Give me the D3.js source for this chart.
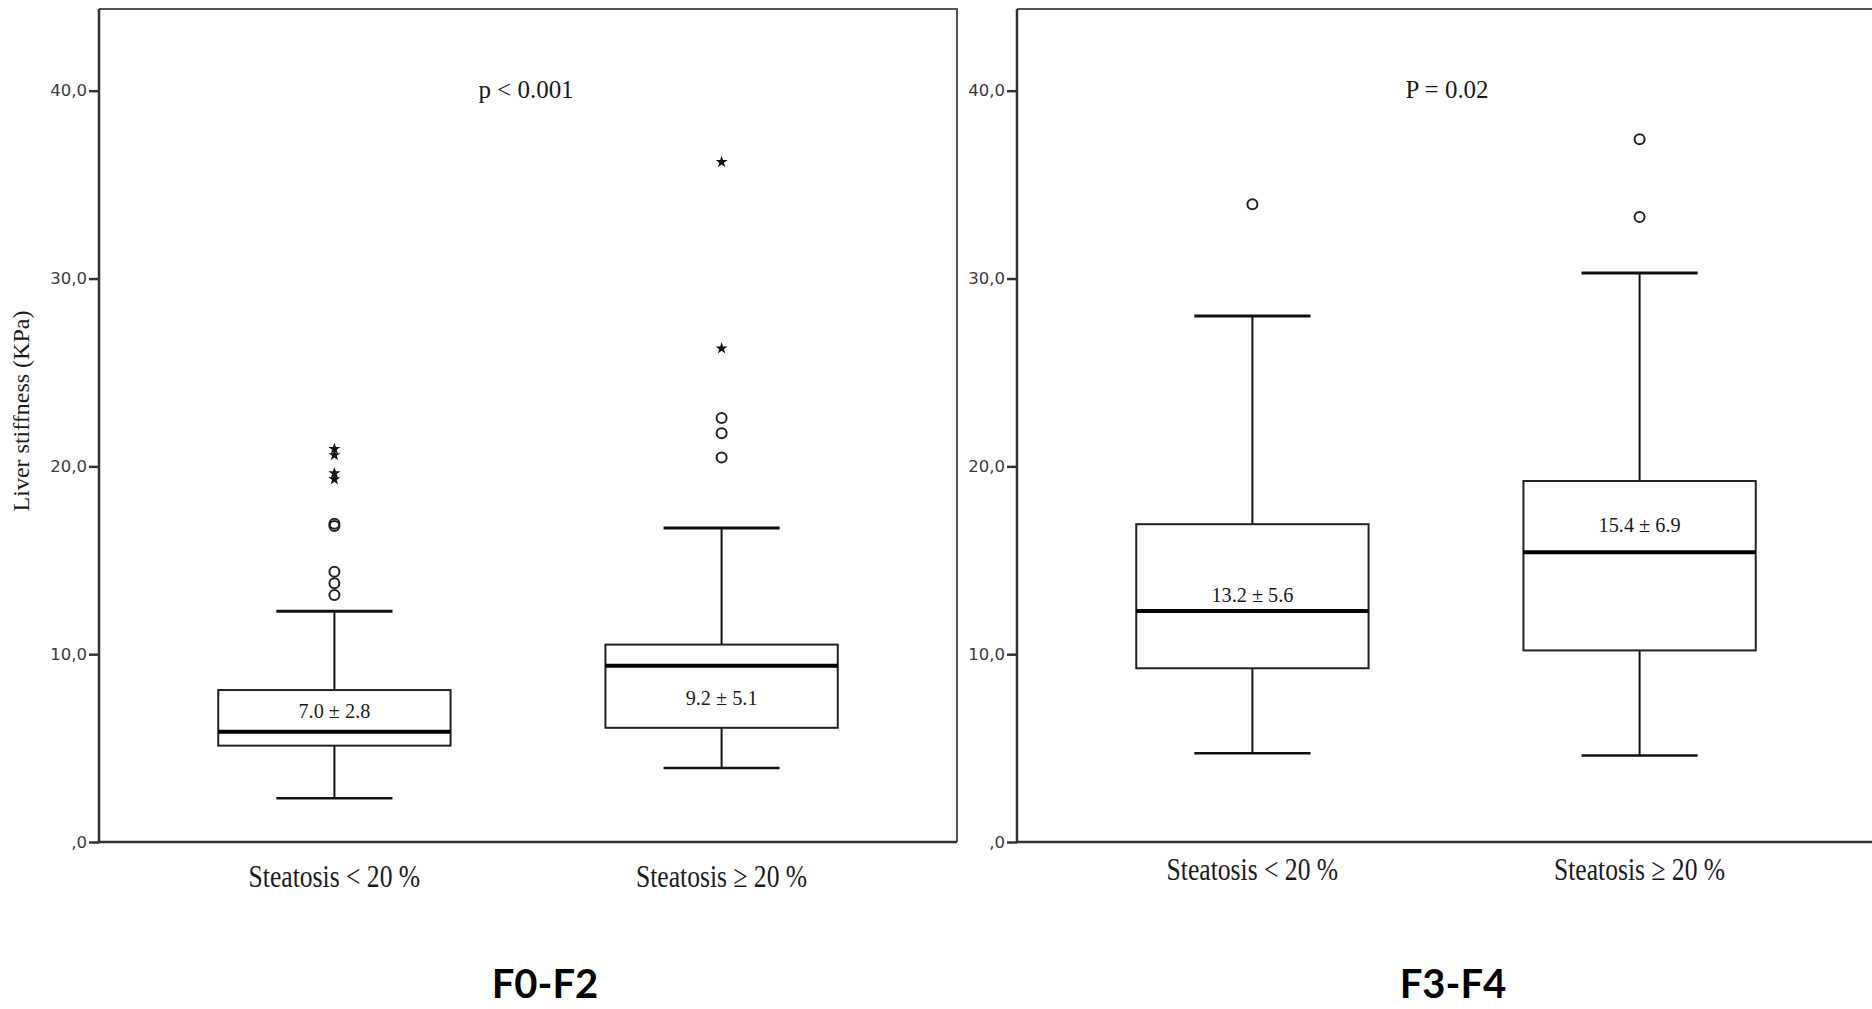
<!DOCTYPE html>
<html>
<head>
<meta charset="utf-8">
<script src="https://cdn.jsdelivr.net/npm/d3@7"></script>
<style>
  body { margin: 0; background: #fff; }
  .tick text { font-family: "DejaVu Sans", sans-serif; font-size: 16.5px; fill: #3a3a3a; }
  .serif { font-family: "Liberation Serif", "Times New Roman", serif; fill: #1a1a1a; }
</style>
</head>
<body>
<svg id="chart"></svg>
<script>
// Panels and categories
var panels = ["F0-F2", "F3-F4"];
var categories = ["Steatosis < 20 %", "Steatosis \u2265 20 %"];
var pLabels = ["p < 0.001", "P = 0.02"];
var yTicks = [0, 10, 20, 30, 40];

// Box statistics, one entry per box: F0-F2 (<20, >=20), F3-F4 (<20, >=20)
var whiskerLow  = [2.33, 3.94, 4.72, 4.61];
var q1          = [5.13, 6.08, 9.25, 10.20];
var median      = [5.87, 9.38, 12.30, 15.43];
var q3          = [8.09, 10.51, 16.92, 19.22];
var whiskerHigh = [12.28, 16.72, 28.01, 30.29];
var means       = [7.0, 9.2, 13.2, 15.4];
var sds         = [2.8, 5.1, 5.6, 6.9];

// Outliers (circles) and extremes (stars)
var outliers = [
    [13.15, 13.77, 14.39, 16.83, 16.95],
    [20.47, 21.76, 22.58],
    [33.96],
    [33.28, 37.41]
];
var extremes = [
    [19.31, 19.63, 20.6, 20.93],
    [26.28, 36.2],
    [],
    []
];

// Layout
var width = 1872, height = 1009;
var panelLeft = [99, 1017], panelWidth = 858;
var plotTop = 9, plotBottom = 842;

var svg = d3.select("#chart")
    .attr("width", width)
    .attr("height", height);

var y = d3.scaleLinear()
    .domain([0, 44.35])
    .range([plotBottom, plotTop]);

var x = d3.scalePoint()
    .domain(categories)
    .range([0, panelWidth])
    .padding(0.608);

var boxW = x.step() * 0.6;

// squeeze text horizontally to mimic the condensed serif of the original
function squeeze(sel, k) {
    sel.each(function () {
        var len = this.getComputedTextLength();
        d3.select(this)
            .attr("textLength", len * k)
            .attr("lengthAdjust", "spacingAndGlyphs");
    });
}

panels.forEach(function (name, p) {
    var g = svg.append("g")
        .attr("transform", "translate(" + panelLeft[p] + ",0)");

    // frame: top and right
    g.append("path")
        .attr("d", "M0," + plotTop + "H" + panelWidth + "V" + plotBottom)
        .attr("fill", "none")
        .attr("stroke", "#555")
        .attr("stroke-width", 2);

    // y axis
    var yAxis = g.append("g")
        .call(d3.axisLeft(y)
            .tickValues(yTicks)
            .tickSize(10)
            .tickPadding(2)
            .tickFormat(function (d) { return d === 0 ? ",0" : d + ",0"; }));
    yAxis.select(".domain").remove();
    yAxis.selectAll(".tick line").attr("stroke", "#333").attr("stroke-width", 2.5);

    // left + bottom axis lines
    g.append("path")
        .attr("d", "M0," + plotTop + "V" + plotBottom + "H" + panelWidth)
        .attr("fill", "none")
        .attr("stroke", "#333")
        .attr("stroke-width", 2.5);

    categories.forEach(function (cat, c) {
        var i = p * 2 + c;
        var cx = x(cat);

        // whisker stems
        g.append("line")
            .attr("x1", cx).attr("x2", cx)
            .attr("y1", y(whiskerHigh[i])).attr("y2", y(q3[i]))
            .attr("stroke", "#111").attr("stroke-width", 2);
        g.append("line")
            .attr("x1", cx).attr("x2", cx)
            .attr("y1", y(q1[i])).attr("y2", y(whiskerLow[i]))
            .attr("stroke", "#111").attr("stroke-width", 2);

        // caps
        [whiskerHigh[i], whiskerLow[i]].forEach(function (v, k) {
            g.append("line")
                .attr("x1", cx - boxW / 4).attr("x2", cx + boxW / 4)
                .attr("y1", y(v)).attr("y2", y(v))
                .attr("stroke", "#111").attr("stroke-width", k === 0 ? 3 : 2.5);
        });

        // box
        g.append("rect")
            .attr("x", cx - boxW / 2)
            .attr("y", y(q3[i]))
            .attr("width", boxW)
            .attr("height", y(q1[i]) - y(q3[i]))
            .attr("fill", "#fff")
            .attr("stroke", "#222")
            .attr("stroke-width", 2);

        // median
        g.append("line")
            .attr("x1", cx - boxW / 2).attr("x2", cx + boxW / 2)
            .attr("y1", y(median[i])).attr("y2", y(median[i]))
            .attr("stroke", "#000").attr("stroke-width", 4);

        // mean ± sd label, nudged off the median line when they collide
        var ly = y(means[i]);
        if (Math.abs(means[i] - median[i]) < 0.5) {
            ly += (i === 1 ? 28 : -28);
        }
        g.append("text")
            .attr("class", "serif")
            .attr("x", cx)
            .attr("y", ly)
            .attr("dy", "0.35em")
            .attr("text-anchor", "middle")
            .style("font-size", "22px")
            .text(means[i].toFixed(1) + " \u00b1 " + sds[i].toFixed(1))
            .call(squeeze, 0.92);

        // outliers
        g.selectAll(".out" + i)
            .data(outliers[i])
            .enter().append("circle")
            .attr("cx", cx)
            .attr("cy", function (d) { return y(d); })
            .attr("r", 5)
            .attr("fill", "none")
            .attr("stroke", "#222")
            .attr("stroke-width", 2);

        // extremes
        g.selectAll(".ext" + i)
            .data(extremes[i])
            .enter().append("path")
            .attr("d", d3.symbol().type(d3.symbolStar).size(45))
            .attr("transform", function (d) { return "translate(" + cx + "," + y(d) + ")"; })
            .attr("fill", "#111");

        // category label
        g.append("text")
            .attr("class", "serif")
            .attr("x", cx)
            .attr("y", p === 0 ? 887 : 880)
            .attr("text-anchor", "middle")
            .style("font-size", "32px")
            .text(cat)
            .call(squeeze, 0.8);
    });

    // p-value
    g.append("text")
        .attr("class", "serif")
        .attr("x", p === 0 ? 427 : 430)
        .attr("y", 98)
        .attr("text-anchor", "middle")
        .style("font-size", "26px")
        .text(pLabels[p])
        .call(squeeze, 0.96);

    // panel title
    svg.append("text")
        .attr("x", p === 0 ? 545 : 1453)
        .attr("y", 998)
        .attr("text-anchor", "middle")
        .style("font-family", "Lato, 'Open Sans', sans-serif")
        .style("font-weight", "bold")
        .style("font-size", "40px")
        .style("fill", "#000")
        .text(name);
});

// y axis title
svg.append("text")
    .attr("class", "serif")
    .attr("transform", "translate(29,411) rotate(-90)")
    .attr("text-anchor", "middle")
    .style("font-size", "24px")
    .text("Liver stiffness (KPa)");
</script>
</body>
</html>
